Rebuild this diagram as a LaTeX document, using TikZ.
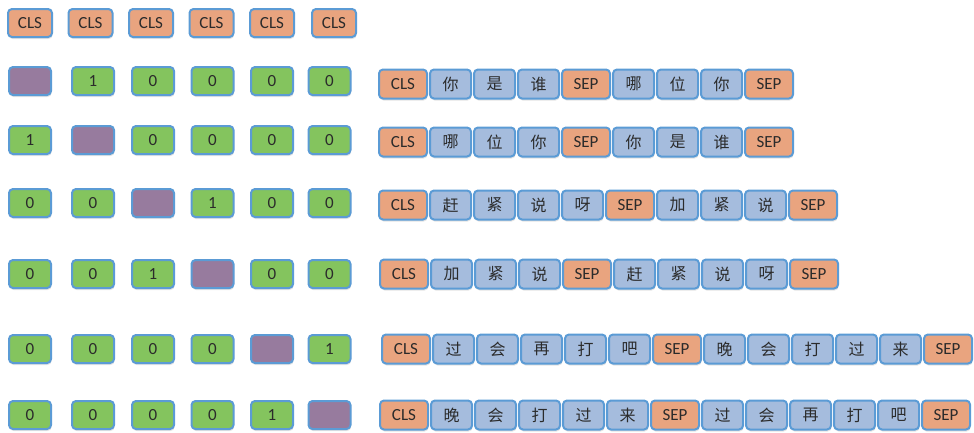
\documentclass[tikz,border=0pt]{standalone}
\usepackage{fontspec}
\setmainfont{Carlito}
\newfontfamily\cjk{Noto Sans CJK SC}
\usepackage{tikz}
\usetikzlibrary{positioning,shadows}
\usepackage{xcolor}
\definecolor{edgeblue}{HTML}{5B9BD5}
\definecolor{clsorange}{HTML}{E9A47F}
\definecolor{tokblue}{HTML}{A5BCDD}
\definecolor{onegreen}{HTML}{84C45E}
\definecolor{maskpurple}{HTML}{977B9E}
\definecolor{inkgray}{HTML}{2B2B2B}

\begin{document}
\begin{tikzpicture}[
    x=1pt, y=-1pt,
    node distance=1pt,
    box/.style={draw=edgeblue, line width=2pt, rounded corners=4pt, inner sep=0pt, text=inkgray,
        drop shadow={shadow xshift=0.6pt, shadow yshift=-2pt, opacity=0.22}},
    head/.style={box, fill=clsorange, minimum width=44pt, minimum height=28pt, font=\fontsize{17}{19}\selectfont},
    cell/.style={box, fill=onegreen, minimum width=42pt, minimum height=28pt, font=\fontsize{17}{19}\selectfont},
    mask/.style={box, fill=maskpurple, minimum width=42pt, minimum height=28pt},
    spec/.style={box, fill=clsorange, minimum width=48pt, minimum height=29pt, font=\fontsize{17}{19}\selectfont},
    tok/.style={box, fill=tokblue, minimum width=41pt, minimum height=29pt, font=\cjk\fontsize{16}{19}\selectfont}
]
\useasboundingbox (0,0) rectangle (974,432);

\foreach \xx [count=\c] in {30,90.5,151,211.5,272,334}
  \node[head] (h-\c) at (\xx,23) {CLS};

\foreach \yy/\mc/\oc [count=\r] in {81/1/2,140/2/1,203/3/4,274/4/3,349/5/6,415/6/5}
  \foreach \xx [count=\c] in {30,93,153,212.5,272,329.5} {
    \ifnum\c=\mc
      \node[mask] (g\r-\c) at (\xx,\yy) {};
    \else\ifnum\c=\oc
      \node[cell] (g\r-\c) at (\xx,\yy) {1};
    \else
      \node[cell] (g\r-\c) at (\xx,\yy) {0};
    \fi\fi
  }

\coordinate (s1-0) at (377,84);
\foreach \s/\w [count=\i, remember=\i as \j (initially 0)] in
    {spec/CLS,tok/你,tok/是,tok/谁,spec/SEP,tok/哪,tok/位,tok/你,spec/SEP}
  \node[\s, right=of s1-\j] (s1-\i) {\w};

\coordinate (s2-0) at (377,142);
\foreach \s/\w [count=\i, remember=\i as \j (initially 0)] in
    {spec/CLS,tok/哪,tok/位,tok/你,spec/SEP,tok/你,tok/是,tok/谁,spec/SEP}
  \node[\s, right=of s2-\j] (s2-\i) {\w};

\coordinate (s3-0) at (377,205);
\foreach \s/\w [count=\i, remember=\i as \j (initially 0)] in
    {spec/CLS,tok/赶,tok/紧,tok/说,tok/呀,spec/SEP,tok/加,tok/紧,tok/说,spec/SEP}
  \node[\s, right=of s3-\j] (s3-\i) {\w};

\coordinate (s4-0) at (378,274);
\foreach \s/\w [count=\i, remember=\i as \j (initially 0)] in
    {spec/CLS,tok/加,tok/紧,tok/说,spec/SEP,tok/赶,tok/紧,tok/说,tok/呀,spec/SEP}
  \node[\s, right=of s4-\j] (s4-\i) {\w};

\coordinate (s5-0) at (380,349);
\foreach \s/\w [count=\i, remember=\i as \j (initially 0)] in
    {spec/CLS,tok/过,tok/会,tok/再,tok/打,tok/吧,spec/SEP,tok/晚,tok/会,tok/打,tok/过,tok/来,spec/SEP}
  \node[\s, right=of s5-\j] (s5-\i) {\w};

\coordinate (s6-0) at (378,415);
\foreach \s/\w [count=\i, remember=\i as \j (initially 0)] in
    {spec/CLS,tok/晚,tok/会,tok/打,tok/过,tok/来,spec/SEP,tok/过,tok/会,tok/再,tok/打,tok/吧,spec/SEP}
  \node[\s, right=of s6-\j] (s6-\i) {\w};
\end{tikzpicture}
\end{document}
